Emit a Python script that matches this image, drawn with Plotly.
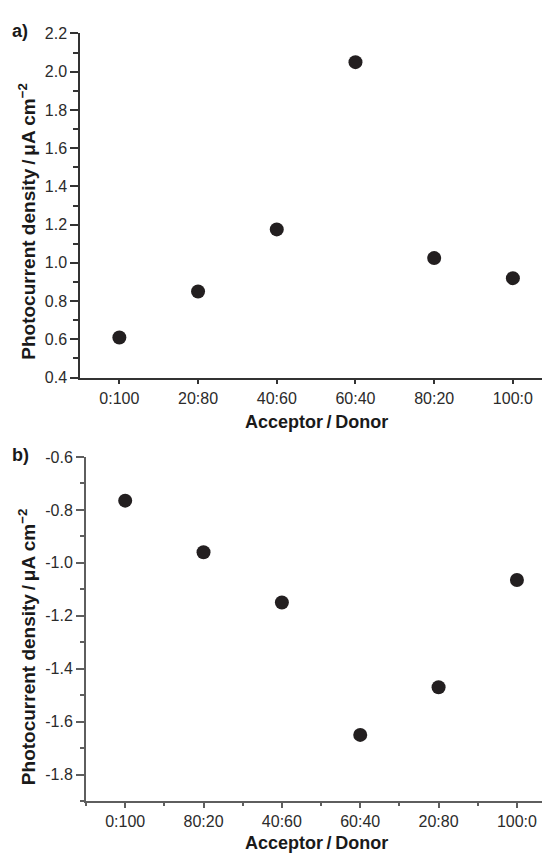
import plotly.graph_objects as go

# ---- data ----
cats_a = ["0:100", "20:80", "40:60", "60:40", "80:20", "100:0"]
vals_a = [0.61, 0.85, 1.175, 2.05, 1.025, 0.92]

cats_b = ["0:100", "80:20", "40:60", "60:40", "20:80", "100:0"]
vals_b = [-0.765, -0.96, -1.15, -1.65, -1.47, -1.065]

yticks_a = [0.4, 0.6, 0.8, 1.0, 1.2, 1.4, 1.6, 1.8, 2.0, 2.2]
yticks_b = [-0.6, -0.8, -1.0, -1.2, -1.4, -1.6, -1.8]

W, H = 542, 862
FONT = "Liberation Sans, Arial, sans-serif"
MARK = "#231f20"

fig = go.Figure()
fig.add_trace(go.Scatter(x=list(range(len(cats_a))), y=vals_a, mode="markers",
                         marker=dict(size=14, color=MARK), xaxis="x", yaxis="y",
                         showlegend=False))
fig.add_trace(go.Scatter(x=list(range(len(cats_b))), y=vals_b, mode="markers",
                         marker=dict(size=14, color=MARK), xaxis="x2", yaxis="y2",
                         showlegend=False))

def px_x(p):
    return p / W

def px_y(p):
    return 1 - p / H

tickfont = dict(family=FONT, size=16, color="#2b2b2b")
ca = "#333333"
cb = "#5e5e5e"

fig.update_layout(
    width=W, height=H, margin=dict(l=0, r=0, t=0, b=0),
    paper_bgcolor="white", plot_bgcolor="white",
    font=dict(family=FONT),
    xaxis=dict(domain=[px_x(80), 1], range=[-0.5, 5.37], anchor="y",
               tickvals=list(range(len(cats_a))), ticktext=cats_a,
               ticks="outside", ticklen=5, tickwidth=1.5, tickcolor=ca,
               showline=True, linecolor=ca, linewidth=1.5,
               showgrid=False, zeroline=False, tickfont=tickfont),
    yaxis=dict(domain=[px_y(377), px_y(26)], range=[0.4, 2.2], anchor="x",
               tickvals=yticks_a, ticktext=["%.1f" % v for v in yticks_a],
               ticks="outside", ticklen=8, tickwidth=1.5, tickcolor=ca,
               minor=dict(dtick=0.1, tick0=0.4, ticks="outside", ticklen=5,
                          tickwidth=1.5, tickcolor=ca, showgrid=False),
               showline=True, linecolor=ca, linewidth=1.5,
               showgrid=False, zeroline=False, tickfont=tickfont),
    xaxis2=dict(domain=[px_x(86), 1], range=[-0.5, 5.32], anchor="y2",
                tickvals=list(range(len(cats_b))), ticktext=cats_b,
                ticks="outside", ticklen=5, tickwidth=1.5, tickcolor=cb,
                minor=dict(dtick=1, tick0=-0.5, ticks="outside", ticklen=3,
                           tickwidth=1.5, tickcolor=cb, showgrid=False),
                showline=True, linecolor=cb, linewidth=2,
                showgrid=False, zeroline=False, tickfont=tickfont),
    yaxis2=dict(domain=[px_y(809), px_y(458)], range=[-1.9, -0.6], anchor="x2",
                tickvals=yticks_b, ticktext=[("%.1f" % v) for v in yticks_b],
                ticks="outside", ticklen=8, tickwidth=1.5, tickcolor=cb,
                minor=dict(dtick=0.1, tick0=-0.6, ticks="outside", ticklen=4,
                           tickwidth=1.5, tickcolor=cb, showgrid=False),
                showline=True, linecolor=cb, linewidth=2,
                showgrid=False, zeroline=False, tickfont=tickfont),
)

ytitle = "Photocurrent density\u2009/\u2009μA cm<sup>−2</sup>"
xtitle = "Acceptor\u2009/\u2009Donor"
tfont = dict(family=FONT, size=19, color="#1a1a1a", weight="bold")
xfont = dict(family=FONT, size=18, color="#1a1a1a", weight="bold")
plabel = dict(family=FONT, size=18, color="#1a1a1a", weight="bold")

anns = [
    dict(text=ytitle, x=px_x(27), y=px_y(218), textangle=-90, font=tfont),
    dict(text=ytitle, x=px_x(27), y=px_y(652), textangle=-90, font=tfont),
    dict(text=xtitle, x=px_x(316), y=px_y(422), font=xfont),
    dict(text=xtitle, x=px_x(316), y=px_y(852), font=xfont),
    dict(text="a)", x=px_x(20), y=px_y(23), font=plabel),
    dict(text="b)", x=px_x(20), y=px_y(456), font=plabel),
]
for a in anns:
    fig.add_annotation(xref="paper", yref="paper", showarrow=False,
                       xanchor="center", yanchor="middle", **a)

fig.write_html("out.html")
